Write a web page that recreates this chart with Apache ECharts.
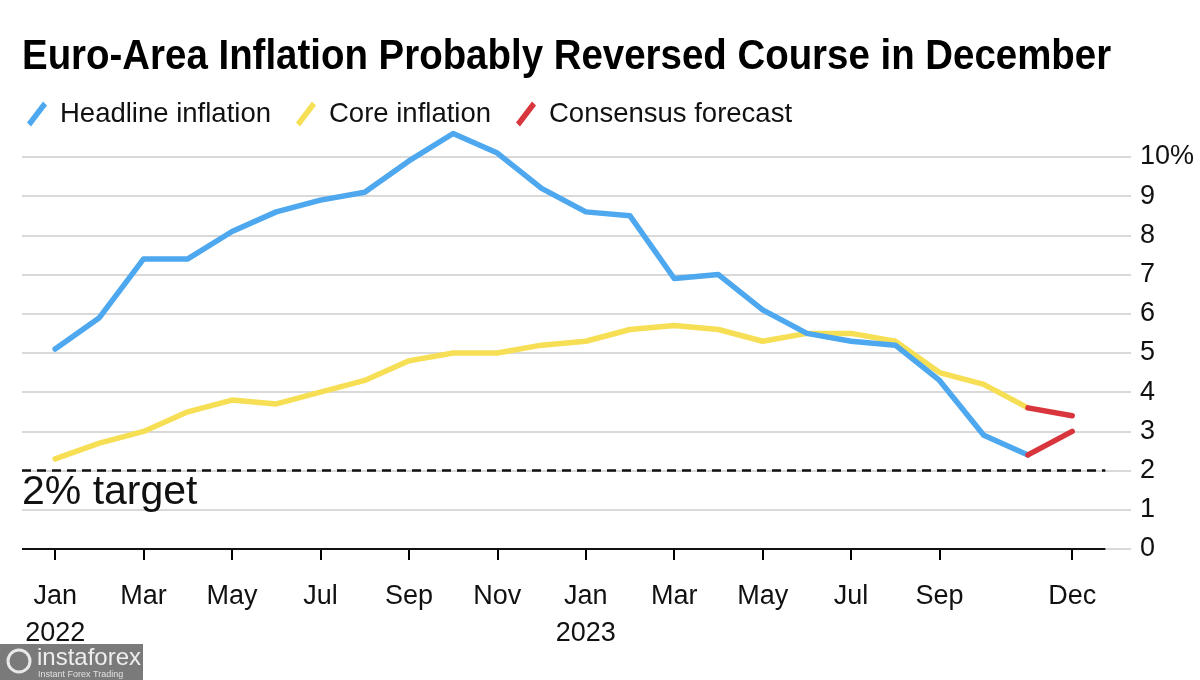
<!DOCTYPE html>
<html>
<head>
<meta charset="utf-8">
<script src="https://cdn.jsdelivr.net/npm/echarts@6/dist/echarts.min.js"></script>
<style>
  html, body { margin: 0; padding: 0; background: #fff; }
  #chart { width: 1200px; height: 680px; }
</style>
</head>
<body>
<div id="chart"></div>
<script>
// ---- Data ----
const monthNames = ['Jan','Feb','Mar','Apr','May','Jun','Jul','Aug','Sep','Oct','Nov','Dec'];
const years = [2022, 2023];
const categories = [];
years.forEach(y => monthNames.forEach(m => categories.push(m + ' ' + y)));

// Jan 2022 .. Nov 2023 (actual)
const headline = [5.1, 5.9, 7.4, 7.4, 8.1, 8.6, 8.9, 9.1, 9.9, 10.6, 10.1, 9.2,
                  8.6, 8.5, 6.9, 7.0, 6.1, 5.5, 5.3, 5.2, 4.3, 2.9, 2.4];
const core = [2.3, 2.7, 3.0, 3.5, 3.8, 3.7, 4.0, 4.3, 4.8, 5.0, 5.0, 5.2,
              5.3, 5.6, 5.7, 5.6, 5.3, 5.5, 5.5, 5.3, 4.5, 4.2, 3.6];
// Nov 2023 .. Dec 2023 (consensus forecast)
const forecastCats = ['Nov 2023', 'Dec 2023'];
const forecastHeadline = [2.4, 3.0];
const forecastCore = [3.6, 3.4];

const tickCats = ['Jan 2022','Mar 2022','May 2022','Jul 2022','Sep 2022','Nov 2022',
                  'Jan 2023','Mar 2023','May 2023','Jul 2023','Sep 2023','Dec 2023'];
const yTicks = [0,1,2,3,4,5,6,7,8,9,10];
const target = 2;

const seriesNames = ['Headline inflation', 'Core inflation', 'Consensus forecast'];
const colors = ['#4DA8EF', '#F6DF55', '#D8363C'];

// ---- Build ----
const idx = c => categories.indexOf(c);
const toPairs = (cats, vals) => vals.map((v, i) => [idx(cats[i]), v]);
const headlinePts = toPairs(categories, headline);
const corePts = toPairs(categories, core);
const fHeadPts = toPairs(forecastCats, forecastHeadline);
const fCorePts = toPairs(forecastCats, forecastCore);
const tickVals = tickCats.map(idx);

const X_MIN = -0.75, X_MAX = 24.33, AXIS_END = 23.75;
const FONT = '"Liberation Sans", Arial, Helvetica, sans-serif';

const lineBase = {
  type: 'line', showSymbol: false, symbol: 'none', clip: false, silent: true,
  lineStyle: { width: 5.5, cap: 'round', join: 'round' }
};

const chart = echarts.init(document.getElementById('chart'));
chart.setOption({
  animation: false,
  backgroundColor: '#fff',
  textStyle: { fontFamily: FONT },
  graphic: [
    {
      type: 'text', x: 22, y: 36, scaleX: 0.915,
      style: { text: 'Euro-Area Inflation Probably Reversed Course in December',
               font: 'bold 42px ' + FONT, fill: '#000', verticalAlign: 'top' }
    },
    {
      type: 'group', left: 0, bottom: 0,
      children: [
        { type: 'rect', shape: { x: 0, y: 0, width: 143, height: 36 }, style: { fill: '#7a7a7a' } },
        { type: 'circle', shape: { cx: 19, cy: 17, r: 11 }, style: { fill: 'none', stroke: '#e8e8e8', lineWidth: 3 } },
        { type: 'text', x: 37, y: 2, style: { text: 'instaforex', font: '24px ' + FONT, fill: '#eeeeee' } },
        { type: 'text', x: 38, y: 26, style: { text: 'Instant Forex Trading', font: '9px ' + FONT, fill: '#e0e0e0' } }
      ]
    }
  ],
  legend: {
    left: 22, top: 95,
    itemWidth: 20, itemHeight: 25, itemGap: 25,
    icon: 'path://M0,21 L4,25 L20,4 L16,0 Z',
    data: seriesNames,
    selectedMode: false,
    textStyle: { fontSize: 27.5, color: '#111', fontFamily: FONT, padding: [0, 0, 0, 8] }
  },
  grid: { left: 22, right: 69, top: 157, bottom: 131 },
  xAxis: {
    type: 'value', min: X_MIN, max: X_MAX,
    axisLine: { show: false },
    splitLine: { show: false },
    axisTick: { show: true, customValues: tickVals, length: 11, lineStyle: { color: '#000', width: 2 } },
    axisLabel: {
      customValues: tickVals, margin: 29,
      fontSize: 27, color: '#111', lineHeight: 37, fontFamily: FONT,
      formatter: v => {
        const c = categories[Math.round(v)] || '';
        const [m, y] = c.split(' ');
        return m === 'Jan' ? m + '\n' + y : m;
      }
    }
  },
  yAxis: {
    type: 'value', position: 'right', min: 0, max: 10, interval: 1,
    axisLine: { show: false }, axisTick: { show: false },
    splitLine: { show: true, lineStyle: { color: '#d9d9d9', width: 2 } },
    axisLabel: {
      margin: 9, fontSize: 27, color: '#111', fontFamily: FONT,
      formatter: v => yTicks.indexOf(v) === yTicks.length - 1 ? v + '%' : String(v)
    }
  },
  series: [
    Object.assign({}, lineBase, {
      name: seriesNames[0], data: headlinePts, z: 4,
      itemStyle: { color: colors[0] }, lineStyle: Object.assign({}, lineBase.lineStyle, { color: colors[0] }),
      markLine: {
        silent: true, symbol: 'none', z: 1,
        data: [
          [ { coord: [X_MIN, 0], lineStyle: { color: '#111', width: 2, type: 'solid' }, label: { show: false } },
            { coord: [AXIS_END, 0] } ],
          [ { coord: [X_MIN, target], lineStyle: { color: '#111', width: 2.5, type: [9, 6] },
              label: { show: true, position: 'insideStartBottom', formatter: '2% target',
                       fontSize: 41, color: '#111', fontFamily: FONT, distance: [0, 2] } },
            { coord: [AXIS_END, target] } ]
        ]
      }
    }),
    Object.assign({}, lineBase, {
      name: seriesNames[1], data: corePts, z: 3,
      itemStyle: { color: colors[1] }, lineStyle: Object.assign({}, lineBase.lineStyle, { color: colors[1] })
    }),
    Object.assign({}, lineBase, {
      name: seriesNames[2], data: fHeadPts, z: 5,
      itemStyle: { color: colors[2] }, lineStyle: Object.assign({}, lineBase.lineStyle, { color: colors[2] })
    }),
    Object.assign({}, lineBase, {
      name: seriesNames[2], data: fCorePts, z: 5,
      itemStyle: { color: colors[2] }, lineStyle: Object.assign({}, lineBase.lineStyle, { color: colors[2] })
    })
  ]
});
</script>
</body>
</html>
